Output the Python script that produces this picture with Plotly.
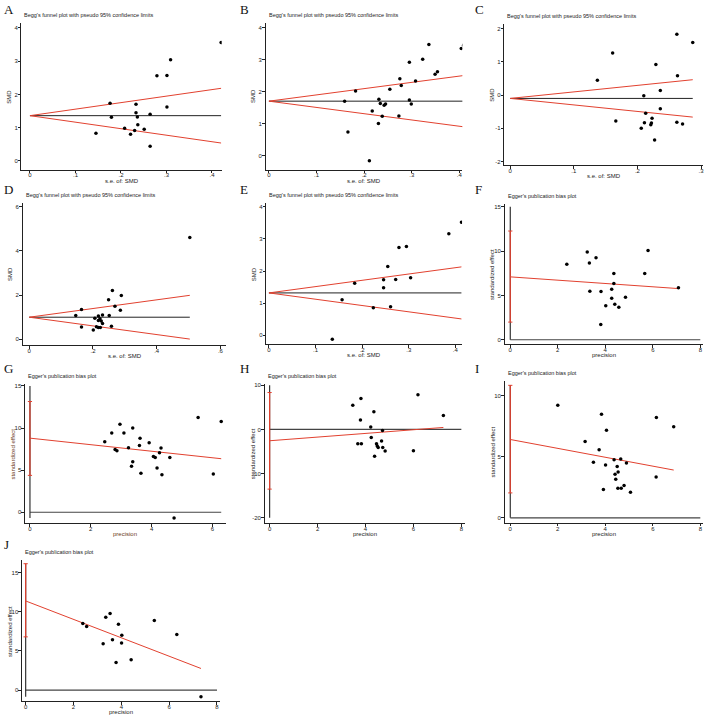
import plotly.graph_objects as go

W, H = 708, 718

# ---------------- data ----------------
A_se = [0.420, 0.309, 0.301, 0.279, 0.301, 0.176, 0.233, 0.233, 0.264, 0.179, 0.236, 0.237, 0.208, 0.251, 0.230, 0.221, 0.145, 0.264]
A_smd = [3.56, 3.04, 2.57, 2.56, 1.62, 1.73, 1.70, 1.45, 1.40, 1.31, 1.32, 1.09, 0.98, 0.95, 0.91, 0.80, 0.83, 0.44]
A_theta = 1.36

B_se = [0.336, 0.409, 0.404, 0.323, 0.295, 0.354, 0.349, 0.275, 0.308, 0.278, 0.254, 0.182, 0.159, 0.231, 0.295, 0.234, 0.245, 0.242, 0.299, 0.217, 0.238, 0.273, 0.230, 0.166, 0.211]
B_smd = [3.48, 3.46, 3.36, 3.02, 2.93, 2.63, 2.55, 2.41, 2.34, 2.20, 2.08, 2.03, 1.71, 1.77, 1.75, 1.64, 1.62, 1.58, 1.62, 1.40, 1.24, 1.25, 1.01, 0.75, -0.15]
B_theta = 1.71

C_se = [0.262, 0.287, 0.161, 0.229, 0.263, 0.137, 0.236, 0.210, 0.213, 0.236, 0.166, 0.211, 0.223, 0.222, 0.221, 0.262, 0.271, 0.206, 0.227]
C_smd = [1.83, 1.58, 1.27, 0.92, 0.58, 0.45, 0.14, -0.02, -0.55, -0.41, -0.78, -0.83, -0.70, -0.84, -0.89, -0.82, -0.87, -1.00, -1.35]
C_theta = -0.10

D_se = [0.504, 0.261, 0.289, 0.249, 0.269, 0.286, 0.164, 0.146, 0.251, 0.230, 0.217, 0.206, 0.222, 0.226, 0.217, 0.230, 0.258, 0.211, 0.217, 0.223, 0.164, 0.201]
D_smd = [4.60, 2.20, 1.98, 1.79, 1.49, 1.31, 1.35, 1.08, 1.08, 1.10, 1.05, 0.95, 0.93, 0.83, 0.85, 0.72, 0.59, 0.57, 0.53, 0.53, 0.56, 0.42]
D_theta = 1.00

E_se = [0.413, 0.386, 0.295, 0.279, 0.255, 0.304, 0.246, 0.272, 0.184, 0.246, 0.157, 0.261, 0.224, 0.136]
E_smd = [3.52, 3.16, 2.76, 2.73, 2.14, 1.79, 1.73, 1.74, 1.62, 1.48, 1.11, 0.89, 0.86, -0.12]
E_theta = 1.32

F_prec = [5.80, 3.24, 3.61, 3.33, 2.38, 4.36, 5.66, 4.36, 3.35, 3.82, 4.27, 4.85, 4.27, 4.02, 4.40, 4.57, 3.81, 7.08]
F_std = [10.05, 9.90, 9.26, 8.66, 8.51, 7.46, 7.46, 6.34, 5.47, 5.44, 5.70, 4.80, 4.69, 3.82, 4.01, 3.67, 1.72, 5.85]
F_fit = [7.09, 5.77]
F_ci = [1.99, 12.26]

G_prec = [5.53, 6.29, 2.96, 2.69, 3.09, 3.38, 3.62, 3.92, 2.46, 3.60, 2.80, 2.86, 3.24, 4.31, 4.26, 4.06, 4.12, 4.60, 3.38, 3.34, 4.18, 3.65, 4.34, 6.03, 4.74]
G_std = [11.25, 10.78, 10.46, 9.40, 9.40, 9.99, 8.80, 8.25, 8.37, 7.94, 7.46, 7.30, 7.66, 7.62, 7.07, 6.63, 6.51, 6.51, 6.00, 5.45, 5.25, 4.62, 4.46, 4.54, -0.67]
G_fit = [8.80, 6.36]
G_ci = [4.38, 13.15]

H_prec = [6.19, 7.25, 3.81, 3.47, 4.35, 3.79, 4.22, 4.71, 4.24, 4.67, 3.68, 3.83, 4.46, 4.49, 4.53, 4.72, 4.82, 6.00, 4.38]
H_std = [7.82, 3.16, 6.99, 5.49, 3.98, 2.11, 0.53, -0.23, -1.80, -2.63, -3.23, -3.23, -3.23, -3.76, -4.06, -4.06, -4.89, -4.81, -6.09]
H_fit = [-2.56, 0.45]
H_ci = [-13.5, 8.35]

I_prec = [2.00, 3.84, 6.15, 6.88, 4.05, 3.15, 3.74, 4.37, 4.65, 3.50, 4.89, 4.01, 4.50, 4.54, 4.41, 6.14, 4.44, 4.79, 4.67, 4.53, 3.92, 5.06]
I_std = [9.21, 8.48, 8.21, 7.45, 7.17, 6.25, 5.57, 4.76, 4.81, 4.54, 4.48, 4.32, 4.21, 3.75, 3.56, 3.34, 3.15, 2.64, 2.42, 2.42, 2.31, 2.09]
I_fit = [6.41, 3.91]
I_ci = [2.04, 10.84]

J_prec = [3.53, 3.35, 5.38, 2.39, 3.88, 2.55, 6.32, 4.02, 3.63, 4.01, 3.24, 4.41, 3.78, 7.33]
J_std = [9.78, 9.31, 8.88, 8.50, 8.41, 8.12, 7.10, 7.01, 6.42, 6.03, 5.91, 3.87, 3.53, -0.85]
J_fit = [11.39, 2.76]
J_ci = [6.80, 16.15]

# tick labels
SE4_vals = [0, 0.1, 0.2, 0.3, 0.4]
SE4_text = ["0", ".1", ".2", ".3", ".4"]
SE3_vals = [0, 0.1, 0.2, 0.3]
SE3_text = ["0", ".1", ".2", ".3"]
SE6_vals = [0, 0.2, 0.4, 0.6]
SE6_text = ["0", ".2", ".4", ".6"]
SMD4_vals = [0, 1, 2, 3, 4]
SMDC_vals = [-2, -1, 0, 1, 2]
SMD6_vals = [0, 2, 4, 6]
P8_vals = [0, 2, 4, 6, 8]
P6_vals = [0, 2, 4, 6]
E15_vals = [0, 5, 10, 15]
EH_vals = [-20, -10, 0, 10]
EI_vals = [0, 5, 10]

BEGG_TITLE = "Begg's funnel plot with pseudo 95% confidence limits"
EGGER_TITLE = "Egger's publication bias plot"

RED = "#e2412f"
BLK = "#222222"
FONT = "Liberation Sans, Arial, sans-serif"

# ---------------- layout geometry (pixels) ----------------
# box = (left, right, top, bottom); xcal/ycal = (value1, pixel1, value2, pixel2)
panels = [
    dict(letter="A", kind="begg", x=A_se, y=A_smd, theta=A_theta, xt=SE4_vals, xtt=SE4_text, yt=SMD4_vals,
         box=(21.5, 222, 21, 168), xcal=(0, 30, 0.4, 212.3), ycal=(0, 159.3, 4, 26), off=(0, 0)),
    dict(letter="B", kind="begg", x=B_se, y=B_smd, theta=B_theta, xt=SE4_vals, xtt=SE4_text, yt=SMD4_vals,
         box=(266, 463, 21, 168), xcal=(0, 269.3, 0.4, 460), ycal=(0, 154.3, 4, 26), off=(236, 0)),
    dict(letter="C", kind="begg", x=C_se, y=C_smd, theta=C_theta, xt=SE3_vals, xtt=SE3_text, yt=SMDC_vals,
         box=(505, 704, 22, 163.5), xcal=(0, 511, 0.3, 702), ycal=(-2, 160, 2, 26.7), off=(472, 0)),
    dict(letter="D", kind="begg", x=D_se, y=D_smd, theta=D_theta, xt=SE6_vals, xtt=SE6_text, yt=SMD6_vals,
         box=(22.7, 226.7, 202, 344), xcal=(0, 29.3, 0.6, 220.7), ycal=(0, 338.3, 6, 205), off=(0, 180)),
    dict(letter="E", kind="begg", x=E_se, y=E_smd, theta=E_theta, xt=SE4_vals, xtt=SE4_text, yt=SMD4_vals,
         box=(266.7, 462.7, 202, 343.3), xcal=(0, 269.3, 0.4, 456), ycal=(0, 334.3, 4, 205.3), off=(236, 180)),
    dict(letter="F", kind="egger", x=F_prec, y=F_std, fit=F_fit, ci=F_ci, xt=P8_vals, xtt=None, yt=E15_vals,
         box=(505.3, 703.7, 203, 343.3), xcal=(0, 511, 8, 701.3), ycal=(0, 338.7, 15, 205.3), off=(472, 180)),
    dict(letter="G", kind="egger", x=G_prec, y=G_std, fit=G_fit, ci=G_ci, xt=P6_vals, xtt=None, yt=E15_vals,
         box=(25, 226, 383, 522.7), xcal=(0, 30, 6, 212.7), ycal=(0, 511.7, 15, 385), off=(0, 360),
         labcolor="#6b3a22"),
    dict(letter="H", kind="egger", x=H_prec, y=H_std, fit=H_fit, ci=H_ci, xt=P8_vals, xtt=None, yt=EH_vals,
         box=(265, 466, 383, 522.7), xcal=(0, 270, 8, 462), ycal=(-20, 517.3, 10, 384.3), off=(236, 360)),
    dict(letter="I", kind="egger", x=I_prec, y=I_std, fit=I_fit, ci=I_ci, xt=P8_vals, xtt=None, yt=EI_vals,
         box=(505.3, 703.7, 380, 522.3), xcal=(0, 511, 8, 701.3), ycal=(0, 517.3, 10, 394.7), off=(472, 360)),
    dict(letter="J", kind="egger", x=J_prec, y=J_std, fit=J_fit, ci=J_ci, xt=P8_vals, xtt=None, yt=E15_vals,
         box=(22, 220, 560, 701.3), xcal=(0, 25.7, 8, 217.3), ycal=(0, 690, 15, 572.3), off=(0, 540)),
]

fig = go.Figure()
annotations = []

def px(x):
    return x / W

def py(y):
    return 1 - y / H

for i, p in enumerate(panels, start=1):
    L, R, T, B = p["box"]
    xv1, xp1, xv2, xp2 = p["xcal"]
    sx = (xp2 - xp1) / (xv2 - xv1)
    xmin = xv1 + (L - xp1) / sx
    xmax = xv1 + (R - xp1) / sx
    yv1, yp1, yv2, yp2 = p["ycal"]
    sy = (yp2 - yp1) / (yv2 - yv1)
    ymin = yv1 + (B - yp1) / sy
    ymax = yv1 + (T - yp1) / sy

    xk = "xaxis" if i == 1 else f"xaxis{i}"
    yk = "yaxis" if i == 1 else f"yaxis{i}"
    xr = "x" if i == 1 else f"x{i}"
    yr = "y" if i == 1 else f"y{i}"

    axcommon = dict(showline=True, linecolor=BLK, linewidth=1, ticks="outside", ticklen=2.5,
                    tickwidth=1, tickcolor=BLK, showgrid=False, zeroline=False,
                    tickfont=dict(size=6, family=FONT, color="#222"))
    xt_text = p["xtt"] if p["xtt"] is not None else [str(v) for v in p["xt"]]
    fig.update_layout(**{
        xk: dict(axcommon, domain=[px(L), px(R)], range=[xmin, xmax], anchor=yr,
                 tickvals=p["xt"], ticktext=xt_text, ticklabelstandoff=-3),
        yk: dict(axcommon, domain=[py(B), py(T)], range=[ymin, ymax], anchor=xr,
                 tickvals=p["yt"], ticktext=[str(v) for v in p["yt"]], ticklabelstandoff=-1),
    })

    ox, oy = p["off"]
    labcolor = p.get("labcolor", "#222")
    if p["kind"] == "begg":
        semax = max(p["x"])
        th = p["theta"]
        fig.add_trace(go.Scatter(x=[0, semax], y=[th, th], mode="lines",
                                 line=dict(color=BLK, width=1), xaxis=xr, yaxis=yr, hoverinfo="skip"))
        fig.add_trace(go.Scatter(x=[0, semax], y=[th, th + 1.96 * semax], mode="lines",
                                 line=dict(color=RED, width=1), xaxis=xr, yaxis=yr, hoverinfo="skip"))
        fig.add_trace(go.Scatter(x=[0, semax], y=[th, th - 1.96 * semax], mode="lines",
                                 line=dict(color=RED, width=1), xaxis=xr, yaxis=yr, hoverinfo="skip"))
        title, xlab, ylab = BEGG_TITLE, "s.e. of: SMD", "SMD"
    else:
        pmax = max(p["x"])
        hend = max(pmax, max(p["xt"]))
        vlo = min(min(p["y"]), min(p["yt"]), p["ci"][0])
        vhi = max(max(p["y"]), max(p["yt"]), p["ci"][1])
        fig.add_trace(go.Scatter(x=[0, hend], y=[0, 0], mode="lines",
                                 line=dict(color="#444", width=1.2), xaxis=xr, yaxis=yr, hoverinfo="skip"))
        fig.add_trace(go.Scatter(x=[0, 0], y=[vlo, vhi], mode="lines",
                                 line=dict(color="#333", width=1.2), xaxis=xr, yaxis=yr, hoverinfo="skip"))
        fig.add_trace(go.Scatter(x=[0, 0], y=p["ci"], mode="lines+markers",
                                 line=dict(color=RED, width=1.2),
                                 marker=dict(symbol="line-ew", size=3, color=RED, line=dict(color=RED, width=1)),
                                 xaxis=xr, yaxis=yr, hoverinfo="skip"))
        fig.add_trace(go.Scatter(x=[0, pmax], y=p["fit"], mode="lines",
                                 line=dict(color=RED, width=1), xaxis=xr, yaxis=yr, hoverinfo="skip"))
        title, xlab, ylab = EGGER_TITLE, "precision", "standardized effect"

    fig.add_trace(go.Scatter(x=p["x"], y=p["y"], mode="markers",
                             marker=dict(color="black", size=3.5), xaxis=xr, yaxis=yr, hoverinfo="skip"))

    # panel letter
    annotations.append(dict(text=p["letter"], x=px(ox + 2), y=py(oy + 8 if p["letter"] != "J" else oy + 4),
                            xref="paper", yref="paper", xanchor="left", yanchor="middle", showarrow=False,
                            font=dict(family="Liberation Serif, Times New Roman, serif", size=13, color="#111")))
    # title
    annotations.append(dict(text=title, x=px(L + 1), y=py(T - 8), xref="paper", yref="paper",
                            xanchor="left", yanchor="middle", showarrow=False,
                            font=dict(family=FONT, size=5.5, color="#222")))
    # x label
    annotations.append(dict(text=xlab, x=px((L + R) / 2), y=py(B + 11), xref="paper", yref="paper",
                            xanchor="center", yanchor="middle", showarrow=False,
                            font=dict(family=FONT, size=6, color=labcolor)))
    # y label
    annotations.append(dict(text=ylab, x=px(L - 12), y=py((T + B) / 2), xref="paper", yref="paper",
                            xanchor="center", yanchor="middle", showarrow=False, textangle=-90,
                            font=dict(family=FONT, size=6, color=labcolor)))

fig.update_layout(width=W, height=H, margin=dict(l=0, r=0, t=0, b=0), showlegend=False,
                  paper_bgcolor="white", plot_bgcolor="white", annotations=annotations)

fig.write_html("out.html")
